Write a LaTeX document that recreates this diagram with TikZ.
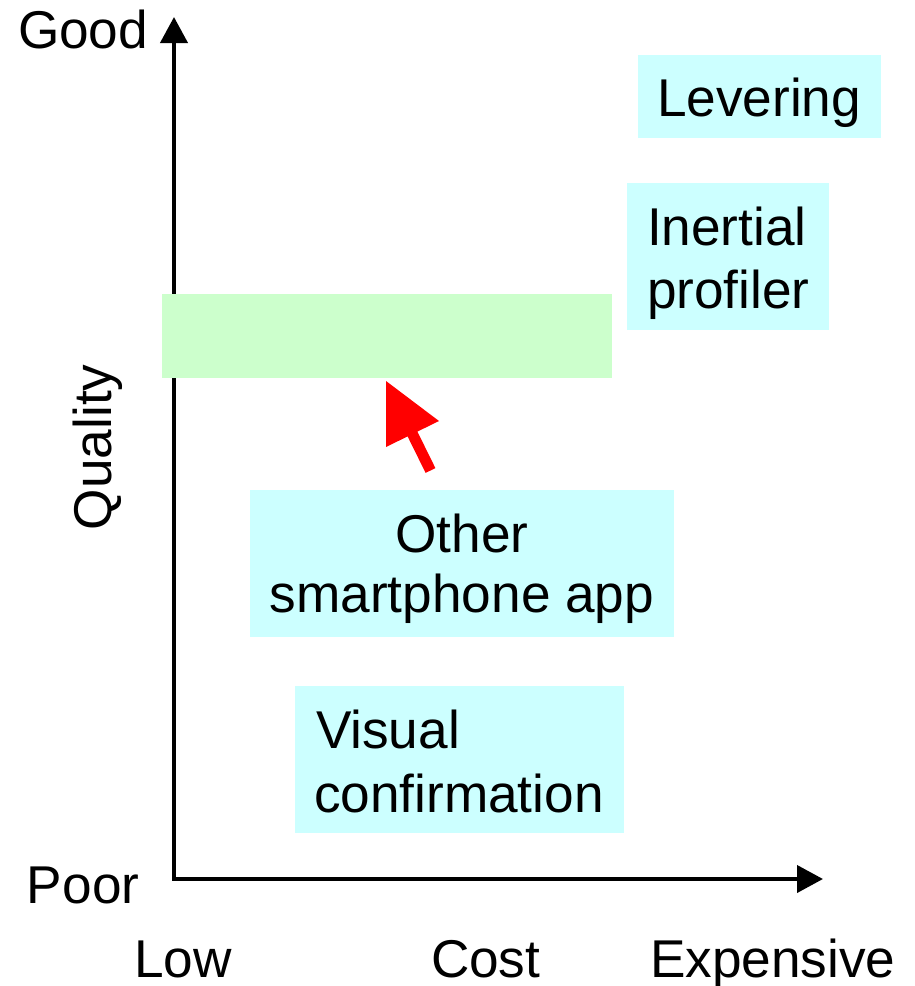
\documentclass[tikz,border=0pt]{standalone}
\usepackage{fontspec}
\setmainfont{Liberation Sans}
\usetikzlibrary{arrows.meta}
\definecolor{boxcyan}{HTML}{CCFFFF}
\definecolor{boxgreen}{HTML}{CCFFCC}
\definecolor{arrred}{HTML}{FF0000}
\begin{document}
\begin{tikzpicture}[x=1pt,y=-1pt,
  lbl/.style={inner sep=0pt,outer sep=0pt,font=\fontsize{53.2}{63}\selectfont,text=black},
  panel/.style={fill=boxcyan,draw=none,inner sep=0pt,outer sep=0pt},
  axis/.style={line width=4pt,-{Triangle[length=26pt,width=27pt]}}]
\useasboundingbox (0,0) rectangle (914,986);
% axes
\coordinate (O) at (174,879);
\coordinate (ytop) at (174,17);
\coordinate (xend) at (823,879);
\draw[axis] (O) -- (ytop);
\draw[axis] ([xshift=-2pt]O) -- (xend);
% green band
\node[fill=boxgreen,inner sep=0pt,outer sep=0pt,minimum width=450pt,minimum height=84pt,anchor=north west] (band) at (162,294) {};
% cyan boxes
\node[panel,minimum width=243pt,minimum height=83pt,anchor=north west] (levbox) at (638,55) {};
\node[panel,minimum width=202pt,minimum height=147pt,anchor=north west] (inbox) at (627,183) {};
\node[panel,minimum width=424pt,minimum height=147pt,anchor=north west] (othbox) at (250,490) {};
\node[panel,minimum width=329pt,minimum height=147pt,anchor=north west] (visbox) at (295,686) {};
% box texts
\node[lbl,anchor=base west] (lev) at (657,116) {Levering};
\node[lbl,anchor=base west] (in1) at (647,245) {Inertial};
\node[lbl,anchor=base west] (in2) at (647,308) {profiler};
\node[lbl,anchor=base] (oth1) at (462,552) {Other};
\node[lbl,anchor=base] (oth2) at (462,612) {smartphone app};
\node[lbl,anchor=base west] (vis1) at (316,748) {Visual};
\node[lbl,anchor=base west] (vis2) at (314,812) {confirmation};
% axis labels
\node[lbl,anchor=base west] (good) at (18,48) {Good};
\node[lbl,anchor=base west] (poor) at (27,903) {Poor};
\node[lbl,anchor=base west] (low) at (134,977) {Low};
\node[lbl,anchor=base west] (cost) at (431,977) {Cost};
\node[lbl,anchor=base west] (exp) at (650,977) {Expensive};
\node[lbl,anchor=base west,rotate=90] (qual) at (111,530) {Quality};
% red arrow
\fill[arrred] (386,381) -- (439,421) -- (417.4,431.6) -- (435.4,468.1)
  -- (425.6,472.9) -- (407.6,436.4) -- (386,447) -- cycle;
\end{tikzpicture}
\end{document}
